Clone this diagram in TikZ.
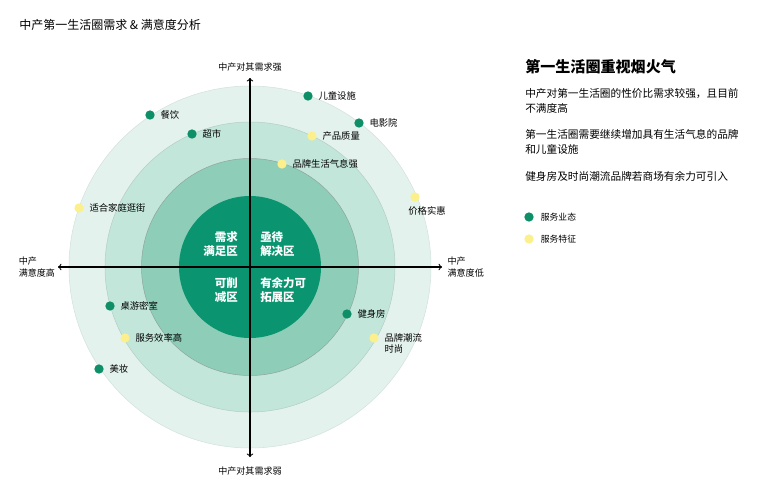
\documentclass[tikz,border=0pt]{standalone}
\usepackage{fontspec}
\setmainfont{Noto Sans CJK SC}
\usetikzlibrary{positioning}
\definecolor{RingOuter}{HTML}{E3F2ED}
\definecolor{RingTwo}{HTML}{C2E6DA}
\definecolor{RingThree}{HTML}{8ECEB8}
\definecolor{CoreGreen}{HTML}{0A9470}
\definecolor{RingEdge}{HTML}{B5CFC6}
\definecolor{DotGreen}{HTML}{0E8F67}
\definecolor{DotYellow}{HTML}{FBF08C}

\begin{document}
\begin{tikzpicture}[x=0.75pt,y=-0.75pt,line cap=round,line join=round,
  dotg/.style={circle,fill=DotGreen,inner sep=0pt,minimum size=7pt},
  doty/.style={circle,fill=DotYellow,inner sep=0pt,minimum size=7pt},
  lbl/.style={font=\fontsize{7}{8.5}\selectfont,inner sep=0pt,align=left},
  axislbl/.style={font=\fontsize{6.8}{9.5}\selectfont,inner sep=0pt,align=left},
  zone/.style={font=\fontsize{8.6}{10.6}\selectfont\bfseries,text=white,inner sep=0pt},
  body/.style={font=\fontsize{8}{11.5}\selectfont,anchor=north west,inner sep=0pt,align=left}]
  \useasboundingbox (0,0) rectangle (772,497);
  % rings
  \coordinate (O) at (250,267);
  \fill[RingOuter,draw=RingEdge!60,line width=0.4pt] (O) circle (181);
  \fill[RingTwo,draw=RingEdge,line width=0.4pt] (O) circle (145);
  \fill[RingThree,draw=RingEdge!80!black,line width=0.4pt] (O) circle (108.5);
  \fill[CoreGreen] (O) circle (71);
  % axes
  \coordinate (N) at (250,78);
  \coordinate (S) at (250,457);
  \coordinate (W) at (58,267);
  \coordinate (E) at (442,267);
  \draw[<->,line width=0.8pt] (S) -- (N);
  \draw[<->,line width=0.8pt] (W) -- (E);
  \node[axislbl,above=5pt of N] (strong) {中产对其需求强};
  \node[axislbl,below=7pt of S] (weak) {中产对其需求弱};
  \node[axislbl,anchor=east] (high) at ([xshift=-2pt]W) {中产\\满意度高};
  \node[axislbl,anchor=west] (low) at ([xshift=4pt]E) {中产\\满意度低};
  % zones
  \node[zone,align=right,anchor=east] (manzu) at (238,244) {需求\\满足区};
  \node[zone,align=left,anchor=west] (jiejue) at (260,244) {亟待\\解决区};
  \node[zone,align=right,anchor=east] (xuejian) at (238,290) {可削\\减区};
  \node[zone,align=left,anchor=west] (tuozhan) at (260,290) {有余力可\\拓展区};
  % service formats
  \node[dotg] (ertong) at (308,96) {};
  \node[dotg] (dianying) at (359,123) {};
  \node[dotg] (canyin) at (150,115) {};
  \node[dotg] (chaoshi) at (192,134) {};
  \node[dotg] (zhuoyou) at (110,306) {};
  \node[dotg] (meizhuang) at (99,369) {};
  \node[dotg] (jianshen) at (347,314) {};
  % service features
  \node[doty] (zhiliang) at (312,136) {};
  \node[doty] (qixi) at (282,164) {};
  \node[doty] (jiage) at (415,197) {};
  \node[doty] (guangjie) at (79,208) {};
  \node[doty] (xiaolv) at (125,338) {};
  \node[doty] (chaoliu) at (374,338) {};
  % labels
  \node[lbl,right=4pt of ertong] {儿童设施};
  \node[lbl,right=4pt of dianying] {电影院};
  \node[lbl,right=4pt of canyin] {餐饮};
  \node[lbl,right=4pt of chaoshi] {超市};
  \node[lbl,right=4pt of zhuoyou] {桌游密室};
  \node[lbl,right=4pt of meizhuang] {美妆};
  \node[lbl,right=4pt of jianshen] {健身房};
  \node[lbl,right=4pt of zhiliang] {产品质量};
  \node[lbl,right=4pt of qixi] {品牌生活气息强};
  \node[lbl,below=3pt of jiage,xshift=9pt] {价格实惠};
  \node[lbl,right=4pt of guangjie] {适合家庭逛街};
  \node[lbl,right=4pt of xiaolv] {服务效率高};
  \node[lbl,right=4pt of chaoliu,yshift=-4.2pt] {品牌潮流\\时尚};
  % title
  \node[anchor=west,inner sep=0pt,font=\fontsize{9}{11}\selectfont] (title) at (19,25) {中产第一生活圈需求 \& 满意度分析};
  % side notes
  \node[anchor=west,inner sep=0pt,font=\fontsize{11.3}{13}\selectfont\bfseries] (head) at (525,67) {第一生活圈重视烟火气};
  \node[body] (note1) at (525,88) {中产对第一生活圈的性价比需求较强，且目前\\不满度高};
  \node[body] (note2) at (525,129) {第一生活圈需要继续增加具有生活气息的品牌\\和儿童设施};
  \node[body] (note3) at (525,171) {健身房及时尚潮流品牌若商场有余力可引入};
  % legend
  \node[dotg] (keyg) at (529,217) {};
  \node[doty] (keyy) at (529,239) {};
  \node[lbl,right=5pt of keyg,font=\fontsize{6.6}{8}\selectfont] {服务业态};
  \node[lbl,right=5pt of keyy,font=\fontsize{6.6}{8}\selectfont] {服务特征};
\end{tikzpicture}
\end{document}
